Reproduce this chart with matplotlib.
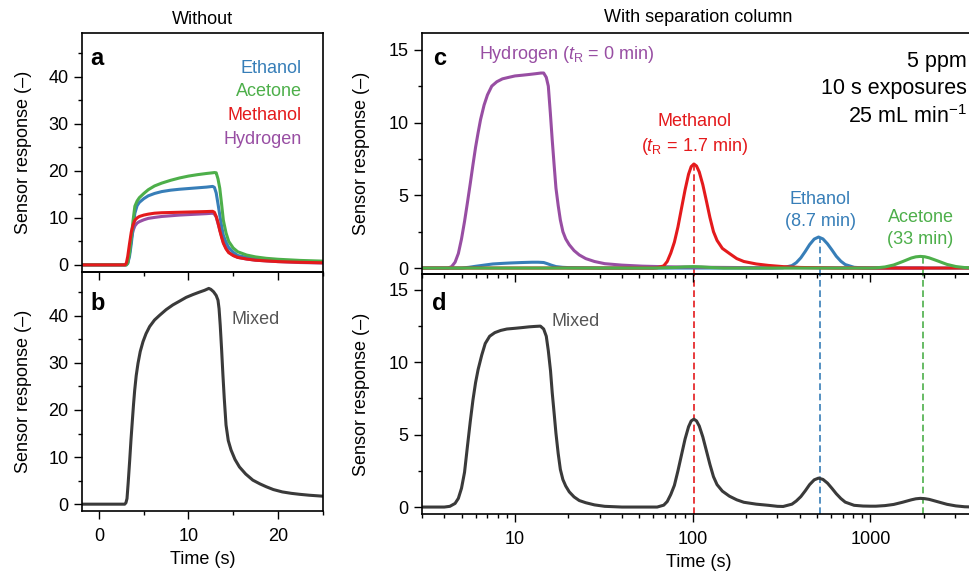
import matplotlib.pyplot as plt
from matplotlib.ticker import MultipleLocator, LogLocator, FuncFormatter, NullFormatter

plt.rcParams['font.family'] = ['Liberation Sans', 'DejaVu Sans']
plt.rcParams['mathtext.fontset'] = 'custom'
plt.rcParams['mathtext.rm'] = 'Liberation Sans'
plt.rcParams['mathtext.it'] = 'Liberation Sans:italic'
plt.rcParams['font.size'] = 13

RED = '#e41a1c'
BLUE = '#377eb8'
GREEN = '#4daf4a'
PURPLE = '#984ea3'
DARK = '#3a3a3a'

# --- single-analyte exposures, no column (s) ---
t_single = [-2, 2.9, 3.05, 3.2, 3.4, 3.6, 3.8, 4.0, 4.25, 4.5, 5.0, 5.5, 6.2,
            7.0, 8.0, 9.0, 10.0, 11.0, 12.0, 12.7, 12.9, 13.1, 13.3, 13.5,
            13.7, 13.9, 14.2, 14.5, 15.0, 15.5, 16.5, 17.5, 18.7, 20.0, 22.5,
            25.0]
ethanol_a = [0, 0, 0, 0.3, 1.8, 4.5, 8.0, 11.0, 12.6, 13.3, 14.1, 14.7, 15.2,
             15.6, 15.9, 16.1, 16.25, 16.4, 16.55, 16.7, 16.5, 15.3, 13.0,
             10.6, 8.3, 6.3, 4.8, 3.7, 2.7, 2.0, 1.6, 1.3, 1.1, 0.9, 0.7, 0.55]
acetone_a = [0, 0, 0, 0.4, 2.5, 6.0, 9.5, 12.5, 13.6, 14.3, 15.2, 16.0, 16.8,
             17.4, 18.0, 18.5, 18.9, 19.2, 19.45, 19.6, 19.65, 19.6, 18.3,
             16.3, 13.0, 9.5, 6.8, 5.0, 3.6, 2.8, 2.1, 1.7, 1.4, 1.2, 0.95, 0.8]
methanol_a = [0, 0, 0.4, 1.8, 4.5, 7.0, 8.5, 9.5, 10.0, 10.3, 10.6, 10.8,
              11.0, 11.1, 11.15, 11.2, 11.25, 11.3, 11.35, 11.4, 11.2, 10.3,
              9.0, 7.3, 5.9, 4.6, 3.4, 2.6, 2.0, 1.6, 1.25, 1.0, 0.85, 0.7,
              0.55, 0.45]
hydrogen_a = [0, 0, 0.1, 0.5, 2.5, 5.5, 7.3, 8.3, 8.9, 9.2, 9.6, 9.9, 10.1,
              10.3, 10.45, 10.6, 10.7, 10.8, 10.9, 11.0, 10.8, 10.2, 8.8, 7.5,
              6.1, 4.8, 3.6, 2.7, 2.0, 1.6, 1.25, 1.0, 0.85, 0.7, 0.5, 0.4]

# --- mixture, no column ---
t_mixed_b = [-2, 2.86, 3.0, 3.12, 3.25, 3.42, 3.57, 3.72, 3.85, 3.98, 4.15,
             4.35, 4.6, 4.91, 5.25, 5.65, 6.2, 6.77, 7.5, 8.25, 9.0, 9.74, 10.5,
             11.2, 11.8, 12.27, 12.5, 12.8, 13.1, 13.3, 13.42, 13.55, 13.7,
             13.85, 14.0, 14.2, 14.45, 14.76, 15.2, 15.7, 16.4, 17.2, 18.0,
             18.7, 19.5, 20.5, 21.5, 22.4, 23.5, 25]
mixed_b = [0, 0, 0.3, 1.2, 4.5, 9.3, 13.8, 17.8, 21.2, 24.2, 27.3, 29.9, 32.4,
           34.5, 36.2, 37.7, 39.1, 40.1, 41.3, 42.3, 43.1, 43.9, 44.5, 45.0,
           45.4, 45.8, 45.6, 45.1, 44.3, 43.3, 41.5, 38.0, 33.0, 27.5, 22.5,
           16.8, 13.5, 11.5, 9.5, 7.9, 6.4, 5.1, 4.3, 3.7, 3.1, 2.6, 2.3, 2.1,
           1.9, 1.7]

# --- single analytes through the separation column ---
t_hydrogen_c = [3, 4.2, 4.4, 4.6, 4.8, 5.0, 5.2, 5.4, 5.6, 5.8, 6.0, 6.2, 6.4,
                6.7, 7.0, 7.4, 7.9, 8.5, 9.2, 10, 11, 12, 13, 14, 14.5, 15.0,
                15.4, 15.8, 16.2, 16.6, 17.0, 17.5, 18.0, 18.6, 19.3, 20.2,
                21.5, 23, 25, 28, 32, 40, 52, 70, 100, 200, 400, 1000, 1980]
hydrogen_c = [0, 0, 0.1, 0.4, 1.0, 2.0, 3.2, 4.5, 5.8, 7.1, 8.3, 9.3, 10.2,
              11.2, 11.9, 12.5, 12.8, 13.0, 13.1, 13.2, 13.25, 13.3, 13.35,
              13.4, 13.4, 13.1, 12.5, 10.7, 8.8, 7.1, 5.5, 4.3, 3.3, 2.5, 2.0,
              1.6, 1.2, 0.9, 0.65, 0.45, 0.3, 0.2, 0.13, 0.09, 0.06, 0.03, 0.02,
              0.01, 0]

t_methanol_c = [3, 60, 63.1, 68.7, 71.9, 75.3, 78.9, 82.6, 86.5, 90.6, 94.8,
                98.1, 101.6, 105.1, 108.9, 114.0, 119.4, 125.0, 130.9, 137.1,
                146.9, 161, 177, 194, 228, 267, 321, 404, 640, 3880]
methanol_c = [0, 0, 0.02, 0.15, 0.45, 1.03, 1.78, 2.82, 4.1, 5.37, 6.45, 6.97,
              7.15, 7.01, 6.6, 5.73, 4.62, 3.48, 2.5, 1.9, 1.35, 1.0, 0.65,
              0.45, 0.28, 0.18, 0.1, 0.04, 0, 0]

t_ethanol_c = [3, 5.0, 5.5, 6.0, 6.7, 7.5, 8.5, 9.5, 11, 12.5, 13.5, 14.5,
               15.2, 16, 17, 18.5, 20, 30, 100, 280, 322, 362, 383, 406, 430,
               455, 483, 511, 541, 573, 608, 643, 682, 722, 810, 909, 1000,
               3880]
ethanol_c = [0, 0, 0.05, 0.12, 0.2, 0.28, 0.32, 0.35, 0.38, 0.4, 0.4, 0.38,
             0.3, 0.2, 0.1, 0.05, 0.03, 0, 0, 0, 0.02, 0.17, 0.37, 0.7, 1.14,
             1.61, 1.99, 2.13, 2.0, 1.67, 1.24, 0.81, 0.47, 0.24, 0.05, 0.01, 0,
             0]

t_acetone_c = [3, 60, 80, 90, 101, 112, 125, 150, 1000, 1074, 1208, 1352, 1516,
               1701, 1803, 1910, 2023, 2143, 2404, 2698, 3027, 3396, 3811,
               3880]
acetone_c = [0, 0, 0.04, 0.08, 0.1, 0.08, 0.04, 0, 0, 0.01, 0.075, 0.21, 0.44,
             0.69, 0.77, 0.8, 0.775, 0.7, 0.48, 0.25, 0.104, 0.033, 0.008, 0]

# --- mixture through the column ---
t_mixed_d = [3, 4.0, 4.3, 4.6, 4.8, 5.0, 5.2, 5.4, 5.6, 5.8, 6.0, 6.2, 6.5,
             6.8, 7.2, 7.7, 8.3, 9.0, 10, 11, 12, 13, 13.9, 14.5, 15.0, 15.4,
             15.85, 16.2, 16.6, 17.0, 17.5, 18.0, 18.6, 19.3, 20.2, 21.5, 23,
             25, 28, 32, 40, 55, 63.1, 68.7, 71.9, 75.3, 78.9, 82.6, 86.5,
             90.6, 94.8, 98.1, 101.6, 105.1, 108.9, 114.0, 119.4, 125.0, 130.9,
             137.1, 146.9, 161, 177, 194, 228, 267, 300, 323, 362, 383, 406,
             430, 455, 483, 511, 541, 574, 608, 643, 682, 722, 810, 910, 1000,
             1074, 1208, 1352, 1516, 1701, 1803, 1910, 2023, 2143, 2404, 2698,
             3027, 3396, 3880]
mixed_d = [0, 0, 0.05, 0.25, 0.6, 1.3, 2.4, 4.2, 5.9, 7.4, 8.6, 9.5, 10.5,
           11.3, 11.8, 12.05, 12.2, 12.3, 12.35, 12.4, 12.45, 12.48, 12.5,
           12.3, 11.8, 10.8, 9.4, 7.9, 6.5, 5.1, 3.7, 2.6, 1.9, 1.45, 1.05, 0.7,
           0.45, 0.3, 0.15, 0.05, 0, 0, 0, 0.13, 0.38, 0.87, 1.5, 2.5, 3.6,
           4.7, 5.55, 5.95, 6.07, 5.95, 5.6, 4.85, 3.9, 2.95, 2.1, 1.55, 1.1,
           0.75, 0.5, 0.33, 0.2, 0.12, 0.05, 0.04, 0.2, 0.42, 0.72, 1.12, 1.55,
           1.88, 2.0, 1.91, 1.65, 1.29, 0.92, 0.59, 0.34, 0.12, 0.07, 0.06,
           0.06, 0.1, 0.18, 0.33, 0.5, 0.57, 0.6, 0.58, 0.53, 0.36, 0.19, 0.08,
           0.02, 0]

# retention times (s)
tr_methanol = 1.7 * 60
tr_ethanol = 8.7 * 60
tr_acetone = 33 * 60

W, H = 970, 574
fig = plt.figure(figsize=(W / 100, H / 100), dpi=100)


def box(x0, x1, y0, y1):
    # pixel box (y measured from top) -> figure fraction rect
    return [x0 / W, 1 - y1 / H, (x1 - x0) / W, (y1 - y0) / H]


ax_b = fig.add_axes(box(81.7, 323, 271.7, 511))
ax_a = fig.add_axes(box(81.7, 323, 33, 271.7))
ax_d = fig.add_axes(box(421.7, 975, 274.3, 514))
ax_c = fig.add_axes(box(421.7, 975, 33, 274.3))

LW = 2.2
line_kw = dict(lw=LW, solid_joinstyle='round', solid_capstyle='round')
for ax in (ax_a, ax_b, ax_c, ax_d):
    ax.patch.set_visible(False)
    for s in ax.spines.values():
        s.set_linewidth(1.2)
    ax.tick_params(which='major', direction='out', length=5.5, width=1.0,
                   labelsize=13)
    ax.tick_params(which='minor', direction='out', length=2.8, width=1.0)
    ax.tick_params(axis='x', which='major', pad=7)
    ax.tick_params(axis='y', which='major', pad=4)

# panel a
ax_a.plot(t_single, hydrogen_a, color=PURPLE, **line_kw)
ax_a.plot(t_single, ethanol_a, color=BLUE, **line_kw)
ax_a.plot(t_single, acetone_a, color=GREEN, **line_kw)
ax_a.plot(t_single, methanol_a, color=RED, **line_kw)
for label, c, y in [('Ethanol', BLUE, 41.85), ('Acetone', GREEN, 36.87),
                    ('Methanol', RED, 31.77), ('Hydrogen', PURPLE, 26.74)]:
    ax_a.text(22.66, y, label, color=c, ha='right', va='center', fontsize=13)

# panel b
ax_b.plot(t_mixed_b, mixed_b, color=DARK, **line_kw)
ax_b.text(14.86, 39.1, 'Mixed', color='#555555', ha='left', va='center',
          fontsize=13)

for ax in (ax_a, ax_b):
    ax.set_xlim(-1.95, 25.05)
    ax.set_ylim(-1.45, 49.35)
    ax.xaxis.set_major_locator(MultipleLocator(10))
    ax.xaxis.set_minor_locator(MultipleLocator(5))
    ax.yaxis.set_minor_locator(MultipleLocator(5))
    ax.set_yticks([0, 10, 20, 30, 40])
    ax.set_ylabel('Sensor response (–)', fontsize=13, va='center')
    ax.yaxis.set_label_coords(-0.243, 0.5)
ax_a.tick_params(axis='x', labelbottom=False)
ax_b.set_xlabel('Time (s)', fontsize=13)

# panel c
ax_c.plot(t_ethanol_c, ethanol_c, color=BLUE, **line_kw)
ax_c.plot(t_hydrogen_c, hydrogen_c, color=PURPLE, **line_kw)
ax_c.plot(t_methanol_c, methanol_c, color=RED, **line_kw)
ax_c.plot(t_acetone_c, acetone_c, color=GREEN, **line_kw)

# panel d
ax_d.plot(t_mixed_d, mixed_d, color=DARK, **line_kw)
ax_d.text(16.1, 12.8, 'Mixed', color='#555555', ha='left', va='center',
          fontsize=13)

ylim_c = (-0.43, 16.15)
ylim_d = (-0.48, 16.08)
dash = (0, (4, 2.2))
for tr, col, series in [(tr_methanol, RED, methanol_c),
                        (tr_ethanol, BLUE, ethanol_c),
                        (tr_acetone, GREEN, acetone_c)]:
    ax_c.vlines(tr, ylim_c[0], max(series), color=col, lw=1.2, linestyles=dash,
                zorder=1)
    ax_d.axvline(tr, color=col, lw=1.2, ls=dash, zorder=1)

for ax, yl in ((ax_c, ylim_c), (ax_d, ylim_d)):
    ax.set_xscale('log')
    ax.set_xlim(2.985, 3880)
    ax.set_ylim(*yl)
    ax.xaxis.set_major_locator(LogLocator(base=10))
    ax.xaxis.set_minor_locator(LogLocator(base=10, subs=range(2, 10)))
    ax.xaxis.set_major_formatter(FuncFormatter(lambda v, p: f'{v:g}'))
    ax.xaxis.set_minor_formatter(NullFormatter())
    ax.yaxis.set_major_locator(MultipleLocator(5))
    ax.yaxis.set_minor_locator(MultipleLocator(2.5))
    ax.set_ylabel('Sensor response (–)', fontsize=13, va='center')
    ax.yaxis.set_label_coords(-0.108, 0.5)
ax_c.tick_params(axis='x', labelbottom=False)
ax_d.set_xlabel('Time (s)', fontsize=13)

ax_c.text(6.24, 14.66, r'Hydrogen ($t_{\mathrm{R}}$ = 0 min)', color=PURPLE,
          ha='left', va='center', fontsize=13)
ax_c.text(tr_methanol, 10.07, 'Methanol', color=RED, ha='center', va='center',
          fontsize=13)
ax_c.text(tr_methanol, 8.35, r'($t_{\mathrm{R}}$ = 1.7 min)', color=RED,
          ha='center', va='center', fontsize=13)
ax_c.text(tr_ethanol, 4.73, 'Ethanol', color=BLUE, ha='center', va='center',
          fontsize=13)
ax_c.text(tr_ethanol, 3.17, '(8.7 min)', color=BLUE, ha='center', va='center',
          fontsize=13)
ax_c.text(1917, 3.5, 'Acetone', color=GREEN, ha='center', va='center',
          fontsize=13)
ax_c.text(1917, 1.93, '(33 min)', color=GREEN, ha='center', va='center',
          fontsize=13)
for y, s in [(0.88, '5 ppm'), (0.768, '10 s exposures'),
             (0.652, r'25 mL min$^{-1}$')]:
    ax_c.text(0.985, y, s, transform=ax_c.transAxes, ha='right', va='center',
              fontsize=15.5)

# panel letters
for ax, letter, x, y in [(ax_a, 'a', 0.034, 0.894), (ax_b, 'b', 0.037, 0.869),
                         (ax_c, 'c', 0.02, 0.896), (ax_d, 'd', 0.018, 0.88)]:
    ax.text(x, y, letter, transform=ax.transAxes, ha='left', va='center',
            fontsize=17, fontweight='bold')

fig.text(202 / W, 1 - 19 / H, 'Without', ha='center', va='center', fontsize=13)
fig.text(698 / W, 1 - 18 / H, 'With separation column', ha='center',
         va='center', fontsize=13)

fig.savefig('out.png', dpi=100)
